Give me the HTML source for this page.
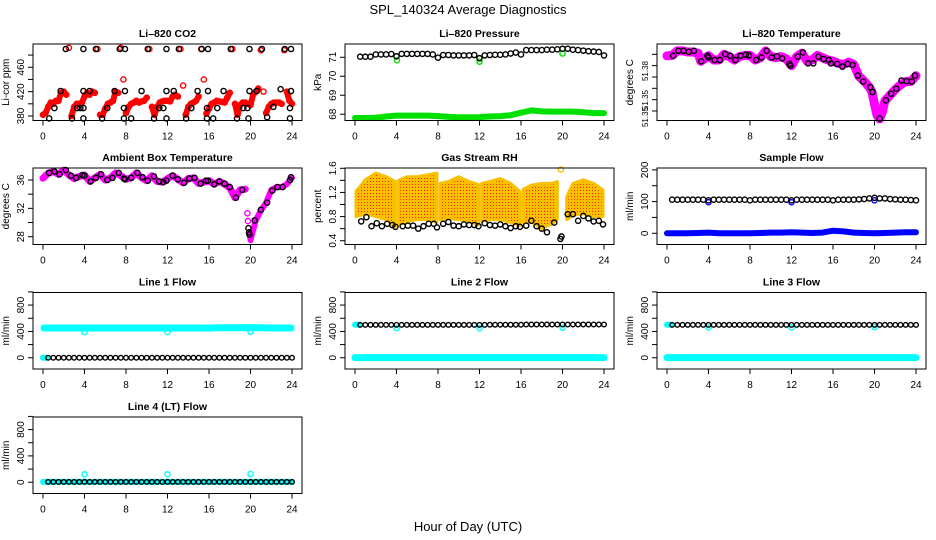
<!DOCTYPE html>
<html><head><meta charset="utf-8"><title>SPL_140324 Average Diagnostics</title>
<style>
html,body{margin:0;padding:0;background:#fff;}
svg{display:block;font-family:"Liberation Sans",Arial,sans-serif;}
</style></head>
<body>
<svg id="chart" width="936" height="540" viewBox="0 0 936 540" xmlns="http://www.w3.org/2000/svg">
<defs>
<pattern id="rhpat" width="3" height="3" patternUnits="userSpaceOnUse">
<rect width="3" height="3" fill="#f9c000"/><rect x="1" y="1" width="1" height="1" fill="#ff2000"/>
</pattern>
</defs>
<text x="468" y="14" text-anchor="middle" font-size="13">SPL_140324  Average Diagnostics</text>
<text x="468" y="531" text-anchor="middle" font-size="13">Hour of Day (UTC)</text>
</svg>
<script>
// ---------- data ----------
const xTicks = [0,4,8,12,16,20,24];
const co2Red = [382,385,395,402,400,405,405,418,420,415,492,380,395,400,400,402,412,418,415,420,418,490,382,382,392,400,402,405,420,418,492,440,385,395,400,402,405,402,404,405,410,490,395,382,395,402,404,405,405,404,412,415,412,490,430,382,395,400,402,405,412,490,440,384,392,400,402,405,404,403,402,410,418,490,400,382,398,402,402,400,398,415,420,425,488,420,385,395,400,402,402,402,400,488,420,405,400];
const co2BlackT = [0.6,1.1,1.7,2.2,2.8,3.3,3.6,3.9,3.9,3.9,3.9,4.5,5.1,5.7,6.2,6.9,7.4,7.8,7.8,7.9,7.9,8.5,9.5,10.1,10.7,11.2,11.6,11.9,11.9,11.9,12.6,13.1,13.8,14.3,14.9,15.3,15.8,15.8,15.9,15.9,16.4,16.8,17.4,18.1,18.7,19.3,19.7,19.8,19.9,19.9,20.6,21.1,21.6,22.2,22.9,23.3,23.8,23.8,23.9,23.9];
const co2BlackV = [376,393,421,490,376,393,393,376,393,421,490,421,490,376,393,421,490,376,393,421,490,376,421,490,376,393,393,376,421,490,421,490,376,393,421,490,376,393,421,490,376,393,421,490,376,393,393,376,421,490,421,490,378,395,424,490,376,393,421,490];
const pressBlack = [71.03,71.03,71.03,71.15,71.15,71.15,71.17,71.05,71.18,71.18,71.18,71.18,71.18,71.18,71.15,70.98,71.12,71.12,71.1,71.1,71.1,71.1,71.12,70.95,71.1,71.12,71.13,71.13,71.15,71.2,71.25,71.15,71.38,71.38,71.38,71.38,71.4,71.4,71.42,71.45,71.45,71.4,71.38,71.35,71.32,71.3,71.28,71.1];
const pressGreen = [67.8,67.8,67.82,67.88,67.93,67.93,67.93,67.93,67.9,67.86,67.84,67.84,67.85,67.88,67.9,67.95,68.08,68.2,68.15,68.14,68.14,68.14,68.1,68.06,68.06];
const pressGreenOutT = [4.05,12,20];
const pressGreenOutV = [70.84,70.77,71.2];
const tempT = [0,0.5,1,1.5,2,2.5,3,3.25,4,4.5,5,5.5,6,6.5,7,7.5,8,8.5,9,9.5,10,10.5,11,11.5,12,12.5,13,13.5,14,14.5,15,15.5,16,16.5,17,17.5,18,18.5,19,19.5,19.75,20,20.25,20.5,20.75,21,21.5,22,22.5,23,23.5,24];
const tempV = [51.3887,51.389,51.3931,51.393,51.392,51.392,51.391,51.3838,51.3887,51.385,51.385,51.390,51.388,51.385,51.388,51.389,51.389,51.385,51.387,51.393,51.388,51.387,51.388,51.386,51.380,51.388,51.391,51.384,51.385,51.389,51.387,51.385,51.384,51.382,51.381,51.383,51.381,51.3704,51.3663,51.361,51.357,51.346,51.336,51.333,51.339,51.349,51.354,51.359,51.363,51.366,51.366,51.371];
const tempBlackT = [0.6,1.1,1.6,2.1,2.6,3.3,3.9,4,4.6,5.1,5.6,6.1,6.6,7.1,7.6,7.9,8.6,9.1,9.6,10.1,10.6,11.1,11.8,11.9,12.6,13.1,13.6,14.1,14.6,15.1,15.6,15.8,16.4,16.9,17.4,17.9,18.4,18.9,19.6,19.8,20.5,21.1,21.6,22.1,22.6,23.1,23.6,23.9];
const tempBlackV = [51.3887,51.3931,51.3931,51.3922,51.3931,51.3838,51.3887,51.3873,51.3850,51.3850,51.3902,51.3887,51.3850,51.3887,51.3896,51.3890,51.3850,51.3873,51.3931,51.3873,51.3882,51.3864,51.3815,51.3800,51.3879,51.3917,51.3820,51.3820,51.3879,51.3858,51.3850,51.3820,51.3815,51.3791,51.3815,51.3806,51.3713,51.3660,51.3610,51.3567,51.3333,51.3494,51.3552,51.3596,51.3669,51.3663,51.3660,51.3713];
const ambMagT = [0,0.5,1,1.5,2,2.5,3,3.5,4,4.5,5,5.5,6,6.5,7,7.5,8,8.5,9,9.5,10,10.5,11,11.5,12,12.5,13,13.5,14,14.5,15,15.5,16,16.5,17,17.5,18,18.5,19,19.5];
const ambMagV = [36.24,36.95,37.2,36.8,37.4,36.7,36.2,36.5,36.7,35.8,36.3,36.8,36.0,36.3,37.0,36.6,36.1,36.3,37.0,36.3,35.9,36.6,35.8,35.7,36.2,36.6,36.1,35.6,36.2,36.3,35.5,35.7,35.9,35.4,35.8,35.4,34.9,33.5,34.6,34.7];
const ambMag2T = [19.9,20,20.25,20.5,21,21.5,22,22.5,23,23.5,24];
const ambMag2V = [28.7,27.5,28.9,30.3,31.7,32.8,34.6,35.0,35.0,35.4,36.3];
const ambOutT = [19.7,19.75];
const ambOutV = [31.3,30.2];
const ambBlackT = [0.6,1.1,1.6,2.2,2.7,3.2,3.8,4,4.6,5.1,5.6,6.2,6.7,7.3,7.8,7.9,8.5,9.1,9.6,10.1,10.7,11.2,11.6,11.9,12.5,13,13.6,14.1,14.6,15.2,15.7,15.9,16.5,17,17.5,18,18.6,19.2,19.8,19.85,19.9,20.4,21,21.6,22.1,22.6,23.1,23.8,23.9];
const ambBlackV = [37.0,37.2,36.8,37.4,36.6,36.3,36.7,36.6,35.8,36.3,36.8,36.0,36.3,37.0,36.2,36.1,36.3,37.0,36.4,35.9,36.5,35.8,35.7,35.9,36.6,36.1,35.6,36.2,36.3,35.5,35.9,35.9,35.4,35.8,35.5,35.0,33.5,34.6,29.2,28.6,28.3,30.3,31.8,32.8,34.5,35.0,35.0,36.0,36.4];
const rhBandT = [0.1,0.5,1,2,3,3.9,null,4.2,5,6,7,7.9,null,8.2,9,10,11,11.9,null,12.2,13,14,15,15.9,null,16.2,17,18,19,19.5,null,20.4,21,22,23,23.9];
const rhHigh = [1.22,1.30,1.41,1.52,1.46,1.38,null,1.40,1.46,1.46,1.49,1.52,null,1.35,1.38,1.46,1.38,1.33,null,1.35,1.38,1.43,1.35,1.21,null,1.25,1.32,1.35,1.35,1.38,null,1.13,1.35,1.41,1.35,1.24];
const rhLow = [0.80,0.82,0.85,0.80,0.75,0.63,null,0.66,0.72,0.75,0.75,0.70,null,0.75,0.77,0.75,0.72,0.66,null,0.72,0.75,0.75,0.70,0.65,null,0.70,0.72,0.60,0.68,0.75,null,0.75,0.82,0.85,0.80,0.80];
const rhOutT = [19.85];
const rhOutV = [1.58];
const rhBlackT = [0.6,1.1,1.6,2.1,2.6,3.1,3.6,3.9,4.6,5.1,5.6,6.1,6.6,7.1,7.6,7.9,8.5,9,9.5,10,10.5,11,11.5,11.9,12.5,13,13.5,14,14.5,15,15.5,15.9,16.5,17,17.5,18,18.5,19.2,19.8,19.9,20.5,21,21.5,22,22.5,23,23.5,23.9];
const rhBlackV = [0.72,0.79,0.64,0.69,0.64,0.68,0.66,0.63,0.64,0.65,0.65,0.60,0.64,0.68,0.68,0.62,0.68,0.71,0.65,0.64,0.67,0.66,0.66,0.64,0.69,0.66,0.65,0.67,0.64,0.61,0.64,0.63,0.65,0.73,0.64,0.60,0.54,0.70,0.43,0.47,0.84,0.84,0.73,0.81,0.77,0.72,0.73,0.67];
const sampBlack = [106,106,106,106,106,106,106,104,106,106,106,106,106,106,106,104,106,106,106,106,106,106,106,104,106,106,106,106,106,106,106,104,106,106,106,106,107,108,110,112,110,110,108,107,106,106,105,104];
const sampBlue = [0,0,0,1,2,0,0,0,0,1,2,2,3,2,1,2,8,6,2,1,0,1,2,3,3];
const sampBlueOutT = [4,12,20];
const sampBlueOutV = [98,98,104];
const flowOutT = [4,12,20];
const line1Cyan = [452,452,452,452,452,452,452,452,452,452,452,452,452,452,452,452,450,455,455,456,458,455,452,452,452];
const line1Black = [0,0,0,0,0,0,0,0,0,0,0,0,0,0,0,0,0,0,0,0,0,0,0,0,0,0,0,0,0,0,0,0,0,0,0,0,0,0,0,0,0,0,0,0,0,0,0,0];
const line1OutV = [390,390,395];
const line2Cyan = [2,2,2,2,2,2,2,2,2,2,2,2,2,2,2,2,2,2,2,2,2,2,2,2,2];
const line2Black = [500,500,500,500,500,500,500,500,500,500,500,500,500,500,500,500,500,500,500,500,500,500,500,500,500,502,502,502,502,502,502,502,505,505,505,505,505,505,505,505,505,505,505,505,505,505,505,505];
const line2OutV = [450,450,455];
const line3Cyan = [2,2,2,2,2,2,2,2,2,2,2,2,2,2,2,2,2,2,2,2,2,2,2,2,2];
const line3Black = [500,500,500,500,500,500,500,500,500,500,500,500,500,500,500,500,500,500,500,500,500,500,500,500,500,500,500,500,500,500,500,500,500,500,500,500,500,500,500,500,500,500,500,500,500,500,500,500];
const line3OutV = [460,460,465];
const line4Cyan = [5,5,5,5,5,5,5,5,5,5,5,5,5,5,5,5,5,5,5,5,5,5,5,5,5];
const line4Black = [5,5,5,5,5,5,5,5,5,5,5,5,5,5,5,5,5,5,5,5,5,5,5,5,5,5,5,5,5,5,5,5,5,5,5,5,5,5,5,5,5,5,5,5,5,5,5,5];
const line4OutV = [120,120,125];

// ---------- layout ----------
const NS = "http://www.w3.org/2000/svg";
const svg = document.getElementById('chart');
const colLeft = [33,345,657], rowTop = [44,168,292.5,417], boxW = 269, boxH = 76.5;
const XL = [-0.96, 24.96];
function mk(tag, attrs, parent){ const e=document.createElementNS(NS,tag); for(const k in attrs) e.setAttribute(k,attrs[k]); parent.appendChild(e); return e; }
function span(t0,t1,n){ const a=[]; for(let i=0;i<n;i++) a.push(t0+(t1-t0)*i/(n-1)); return a; }
function X(p,t){ return colLeft[p.col] + (t-XL[0])/(XL[1]-XL[0])*boxW; }
function Y(p,v){ const top=rowTop[p.row]; return top+boxH-(v-p.ylim[0])/(p.ylim[1]-p.ylim[0])*boxH; }

function frame(p){
  const g = mk('g',{},svg);
  
  
  const L=colLeft[p.col], T=rowTop[p.row], B=T+boxH;
  const t = mk('text',{x:L+boxW/2,y:T-7,'text-anchor':'middle','font-size':'10.5','font-weight':'bold'},g);
  t.textContent = p.title;
  
  
  const yl = mk('text',{x:0,y:0,'text-anchor':'middle','font-size':'10',transform:`translate(${L-24},${T+boxH/2}) rotate(-90)`},g);
  yl.textContent = p.ylab;
  
  
  const xa = mk('g',{},g);
  
  
  mk('line',{x1:X(p,xTicks[0]),x2:X(p,xTicks[xTicks.length-1]),y1:B,y2:B,stroke:'#000'},xa);
  xTicks.forEach(v=>{
    const x=X(p,v);
    mk('line',{x1:x,x2:x,y1:B,y2:B+5,stroke:'#000'},xa);
    const lt = mk('text',{x:x,y:B+19,'text-anchor':'middle','font-size':'10'},xa);
    lt.textContent = v;
    
    
  });
  const ya = mk('g',{},g);
  
  
  const vis = p.yticks.filter(v=>Y(p,v)>=T-1 && Y(p,v)<=B+1);
  mk('line',{x1:L,x2:L,y1:Y(p,vis[0]),y2:Y(p,vis[vis.length-1]),stroke:'#000'},ya);
  vis.forEach(v=>{ const y=Y(p,v); mk('line',{x1:L-5,x2:L,y1:y,y2:y,stroke:'#000'},ya); });
  p.ylabels.forEach((v,i)=>{
    const y = p.ylabelPos ? p.ylabelPos[i] : Y(p,v);
    const lt = mk('text',{x:0,y:0,'text-anchor':'middle','font-size':p.labelSize||'10',transform:`translate(${L-9},${y}) rotate(-90)`},ya);
    lt.textContent = p.ylabelText ? p.ylabelText[i] : v;
    
    
  });
  const plot = mk('g',{},g);
  
  
  const box = mk('rect',{x:L,y:T,width:boxW,height:boxH,fill:'none',stroke:'#000','stroke-width':1},g);
  
  
  return plot;
}
function circles(g,p,ts,vs,color,name,r){
  for(let i=0;i<ts.length;i++){
    const c = mk('circle',{cx:X(p,ts[i]),cy:Y(p,vs[i]),r:r||2.6,fill:'none',stroke:color,'stroke-width':1.4},g);
    
    
  }
}
function thick(g,p,ts,vs,color,w,name,maxJump){
  let d='', pen=false;
  for(let i=0;i<ts.length;i++){
    if(ts[i]===null||vs[i]===null){ pen=false; continue; }
    if(maxJump && i>0 && vs[i-1]!==null && Math.abs(vs[i]-vs[i-1])>maxJump) pen=false;
    d += (pen?'L':'M')+X(p,ts[i]).toFixed(1)+','+Y(p,vs[i]).toFixed(1);
    pen=true;
  }
  const pa = mk('path',{d:d,fill:'none',stroke:color,'stroke-width':w,'stroke-linecap':'round','stroke-linejoin':'round'},g);
  
  
}
function band(g,p,ts,hi,lo,name){
  let seg=[];
  const flush=()=>{
    if(seg.length<2){ seg=[]; return; }
    let d='M'+seg.map(i=>X(p,ts[i]).toFixed(1)+','+Y(p,hi[i]).toFixed(1)).join('L');
    d+='L'+seg.slice().reverse().map(i=>X(p,ts[i]).toFixed(1)+','+Y(p,lo[i]).toFixed(1)).join('L')+'Z';
    const pa = mk('path',{d:d,fill:'url(#rhpat)',stroke:'#f9c000','stroke-width':3,'stroke-linejoin':'round'},g);
    
    
    seg=[];
  };
  for(let i=0;i<ts.length;i++){ if(ts[i]===null) flush(); else seg.push(i); }
  flush();
}

// ---------- panels ----------
const P = {
  co2:{name:'co2',col:0,row:0,title:'Li\u2013820 CO2',ylab:'Li-cor ppm',ylim:[372.6,498.2],yticks:[380,400,420,440,460,480],ylabels:[380,420,460]},
  press:{name:'pressure',col:1,row:0,title:'Li\u2013820 Pressure',ylab:'kPa',ylim:[67.67,71.70],yticks:[68,69,70,71],ylabels:[68,69,70,71]},
  temp:{name:'temperature',col:2,row:0,title:'Li\u2013820 Temperature',ylab:'degrees C',ylim:[51.3316,51.3991],yticks:[51.34,51.35,51.36,51.37,51.38,51.39],ylabels:[51.34,51.35,51.38],ylabelText:['51.35','51.35','51.38'],ylabelPos:[117,100,71],labelSize:'8'},
  amb:{name:'ambient',col:0,row:1,title:'Ambient Box Temperature',ylab:'degrees C',ylim:[26.9,37.69],yticks:[28,30,32,34,36],ylabels:[28,32,36]},
  rh:{name:'rh',col:1,row:1,title:'Gas Stream RH',ylab:'percent',ylim:[0.337,1.605],yticks:[0.4,0.6,0.8,1.0,1.2,1.4,1.6],ylabels:[0.4,0.8,1.2,1.6],ylabelText:['0.4','0.8','1.2','1.6']},
  samp:{name:'sample-flow',col:2,row:1,title:'Sample Flow',ylab:'ml/min',ylim:[-35.4,206],yticks:[0,50,100,150,200],ylabels:[0,100,200]},
  l1:{name:'line1-flow',col:0,row:2,title:'Line 1 Flow',ylab:'ml/min',ylim:[-171,991],yticks:[0,200,400,600,800,1000],ylabels:[0,400,800]},
  l2:{name:'line2-flow',col:1,row:2,title:'Line 2 Flow',ylab:'ml/min',ylim:[-171,991],yticks:[0,200,400,600,800,1000],ylabels:[0,400,800]},
  l3:{name:'line3-flow',col:2,row:2,title:'Line 3 Flow',ylab:'ml/min',ylim:[-171,991],yticks:[0,200,400,600,800,1000],ylabels:[0,400,800]},
  l4:{name:'line4-flow',col:0,row:3,title:'Line 4 (LT) Flow',ylab:'ml/min',ylim:[-171,991],yticks:[0,200,400,600,800,1000],ylabels:[0,400,800]}
};

let g;
g = frame(P.co2);
const co2T = span(0,24,co2Red.length);
thick(g,P.co2,co2T,co2Red,'#ff0000',6,'co2-red-trace',30);
circles(g,P.co2,co2T,co2Red,'#ff0000','co2-red-point');
circles(g,P.co2,co2BlackT,co2BlackV,'#000','co2-black-point');

g = frame(P.press);
thick(g,P.press,span(0,24,pressGreen.length),pressGreen,'#00e000',6,'pressure-green-trace');
circles(g,P.press,pressGreenOutT,pressGreenOutV,'#00e000','pressure-green-point');
circles(g,P.press,span(0.5,24,pressBlack.length),pressBlack,'#000','pressure-black-point');

g = frame(P.temp);
thick(g,P.temp,tempT,tempV,'#ff00ff',9,'temperature-magenta-trace');
circles(g,P.temp,tempBlackT,tempBlackV,'#000','temperature-black-point');

g = frame(P.amb);
thick(g,P.amb,ambMagT,ambMagV,'#ff00ff',7,'ambient-magenta-trace');
thick(g,P.amb,ambMag2T,ambMag2V,'#ff00ff',6,'ambient-magenta-trace-2');
circles(g,P.amb,ambOutT,ambOutV,'#ff00ff','ambient-magenta-point');
circles(g,P.amb,ambBlackT,ambBlackV,'#000','ambient-black-point');

g = frame(P.rh);
band(g,P.rh,rhBandT,rhHigh,rhLow,'rh-orange-cloud');
circles(g,P.rh,rhOutT,rhOutV,'#f9c000','rh-orange-point');
circles(g,P.rh,rhBlackT,rhBlackV,'#000','rh-black-point');

g = frame(P.samp);
thick(g,P.samp,span(0,24,sampBlue.length),sampBlue,'#0000ff',6,'sample-blue-trace');
circles(g,P.samp,sampBlueOutT,sampBlueOutV,'#0000ff','sample-blue-point');
circles(g,P.samp,span(0.5,24,sampBlack.length),sampBlack,'#000','sample-black-point');

g = frame(P.l1);
thick(g,P.l1,span(0.1,23.9,line1Cyan.length),line1Cyan,'#00ffff',7,'line1-cyan-trace');
thick(g,P.l1,[0,0.3],[0,0],'#00ffff',6,'line1-cyan-start');
circles(g,P.l1,flowOutT,line1OutV,'#00ffff','line1-cyan-point');
circles(g,P.l1,span(0.5,24,line1Black.length),line1Black,'#000','line1-black-point',2.3);

g = frame(P.l2);
thick(g,P.l2,span(0,24,line2Cyan.length),line2Cyan,'#00ffff',7,'line2-cyan-trace');
thick(g,P.l2,[0,0.3],[500,500],'#00ffff',6,'line2-cyan-start');
circles(g,P.l2,flowOutT,line2OutV,'#00ffff','line2-cyan-point');
circles(g,P.l2,span(0.5,24,line2Black.length),line2Black,'#000','line2-black-point',2.3);

g = frame(P.l3);
thick(g,P.l3,span(0,24,line3Cyan.length),line3Cyan,'#00ffff',7,'line3-cyan-trace');
thick(g,P.l3,[0,0.3],[500,500],'#00ffff',6,'line3-cyan-start');
circles(g,P.l3,flowOutT,line3OutV,'#00ffff','line3-cyan-point');
circles(g,P.l3,span(0.5,24,line3Black.length),line3Black,'#000','line3-black-point',2.3);

g = frame(P.l4);
thick(g,P.l4,span(0,24,line4Cyan.length),line4Cyan,'#00ffff',6,'line4-cyan-trace');
circles(g,P.l4,flowOutT,line4OutV,'#00ffff','line4-cyan-point');
circles(g,P.l4,span(0.5,24,line4Black.length),line4Black,'#000','line4-black-point',2.3);
</script>
</body></html>
